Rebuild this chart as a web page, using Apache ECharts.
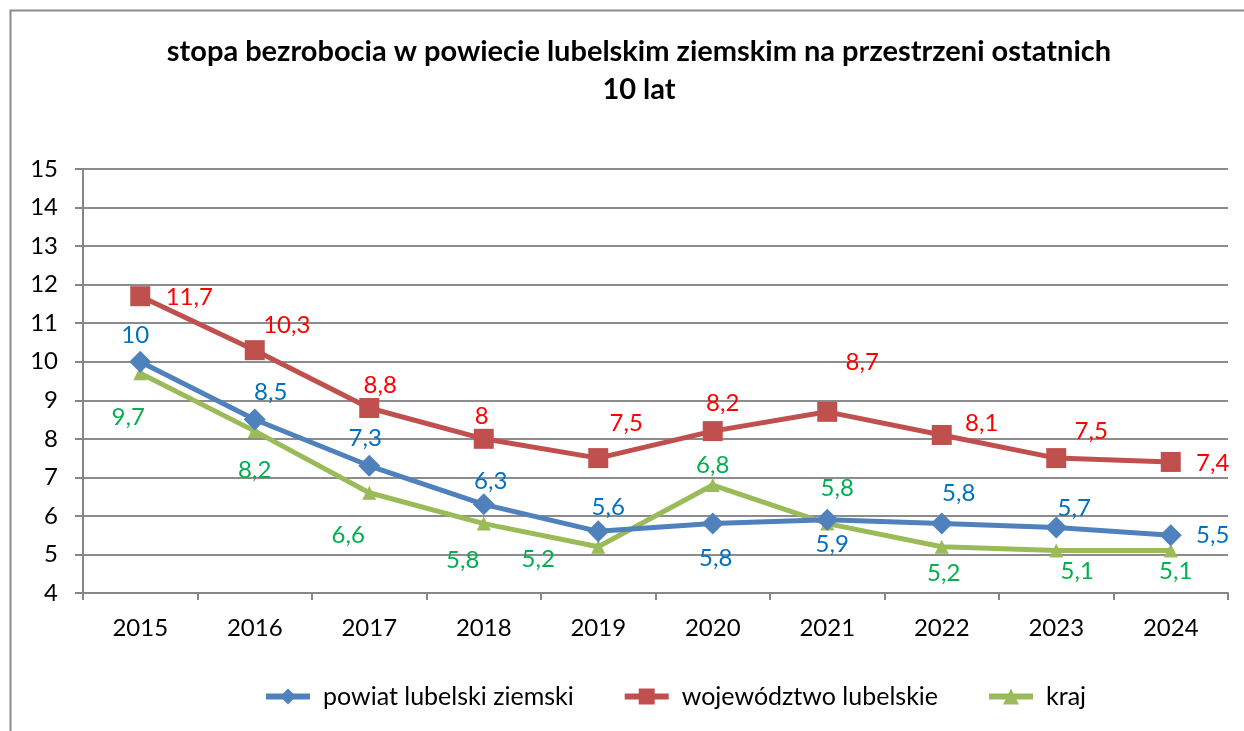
<!DOCTYPE html>
<html lang="pl">
<head>
    <meta charset="UTF-8">
    <title>stopa bezrobocia</title>
    <script src="https://cdn.jsdelivr.net/npm/echarts@6/dist/echarts.min.js"></script>
    <style>
        html, body { margin: 0; padding: 0; background: #fff; }
        #chart { width: 1244px; height: 731px; }
    </style>
</head>
<body>
<div id="chart"></div>

<script type="text/javascript">
    // dane
    var years = ['2015', '2016', '2017', '2018', '2019', '2020', '2021', '2022', '2023', '2024'];
    var powiat = [10, 8.5, 7.3, 6.3, 5.6, 5.8, 5.9, 5.8, 5.7, 5.5];
    var wojewodztwo = [11.7, 10.3, 8.8, 8, 7.5, 8.2, 8.7, 8.1, 7.5, 7.4];
    var kraj = [9.7, 8.2, 6.6, 5.8, 5.2, 6.8, 5.8, 5.2, 5.1, 5.1];
    var seriesNames = ['powiat lubelski ziemski', 'województwo lubelskie', 'kraj'];
    var yTicks = [4, 15, 1];

    // przesuniecia etykiet (jak w oryginale, recznie ustawione)
    var offPowiat = [[-5,-26],[16,-27],[-4,-28],[7,-23],[10,-24],[3,35],[5,25],[17,-30],[18,-19],[42,0]];
    var offWoj = [[49,1],[32,-25],[11,-23],[-2,-23],[28,-35],[10,-28],[35,-50],[40,-12],[35,-27],[42,1]];
    var offKraj = [[-12,44],[0,39],[-21,42],[-21,37],[-60,13],[0,-20],[10,-35],[2,27],[21,21],[5,21]];

    var font = 'Lato, "Open Sans", sans-serif';

    function fmt(v) {
        return String(v).replace('.', ',');
    }

    function buildData(values, offsets, color) {
        return values.map(function (v, i) {
            return {
                value: v,
                label: {
                    show: true,
                    position: 'inside',
                    offset: offsets[i],
                    color: color,
                    fontFamily: font,
                    fontSize: 24,
                    formatter: fmt(v)
                }
            };
        });
    }

    var myChart = echarts.init(document.getElementById('chart'), null, {renderer: 'canvas'});

    var option = {
        animation: false,
        backgroundColor: '#fff',
        graphic: [{
            type: 'rect',
            shape: {x: 10.5, y: 10.5, width: 1400, height: 900},
            style: {fill: 'none', stroke: '#8a8a8a', lineWidth: 2},
            silent: true,
            z: -1
        }],
        title: {
            text: 'stopa bezrobocia w powiecie lubelskim ziemskim na przestrzeni ostatnich\n10 lat',
            left: 634,
            textAlign: 'center',
            top: 28,
            textStyle: {
                fontFamily: font,
                fontWeight: 'bold',
                fontSize: 29,
                lineHeight: 38,
                color: '#000'
            }
        },
        legend: {
            data: seriesNames,
            bottom: 17,
            left: 258,
            itemWidth: 44,
            itemHeight: 20,
            itemGap: 48,
            lineStyle: {width: 6},
            textStyle: {
                fontFamily: font,
                fontSize: 25,
                color: '#000',
                padding: [0, 0, 0, 8]
            }
        },
        grid: {
            left: 83,
            right: 16,
            top: 169,
            bottom: 138,
            containLabel: false
        },
        xAxis: {
            type: 'category',
            data: years,
            boundaryGap: true,
            axisLine: {lineStyle: {color: '#868686', width: 2}},
            axisTick: {show: true, length: 7, lineStyle: {color: '#868686', width: 2}},
            axisLabel: {
                color: '#000',
                fontFamily: font,
                fontSize: 24,
                margin: 23
            }
        },
        yAxis: {
            type: 'value',
            min: yTicks[0],
            max: yTicks[1],
            interval: yTicks[2],
            axisLine: {show: true, lineStyle: {color: '#868686', width: 2}},
            axisTick: {show: true, length: 8, lineStyle: {color: '#868686', width: 2}},
            splitLine: {lineStyle: {color: '#8c8c8c', width: 2}},
            axisLabel: {
                color: '#000',
                fontFamily: font,
                fontSize: 24,
                margin: 25
            }
        },
        series: [
            {
                name: seriesNames[0],
                type: 'line',
                data: buildData(powiat, offPowiat, '#0070C0'),
                symbol: 'diamond',
                symbolSize: 22,
                lineStyle: {color: '#4F81BD', width: 5},
                itemStyle: {color: '#4F81BD'},
                z: 3
            },
            {
                name: seriesNames[1],
                type: 'line',
                data: buildData(wojewodztwo, offWoj, '#FF0000'),
                symbol: 'rect',
                symbolSize: 20,
                lineStyle: {color: '#C0504D', width: 5},
                itemStyle: {color: '#C0504D'},
                z: 2
            },
            {
                name: seriesNames[2],
                type: 'line',
                data: buildData(kraj, offKraj, '#00B050'),
                symbol: 'triangle',
                symbolSize: 14,
                lineStyle: {color: '#9BBB59', width: 5},
                itemStyle: {color: '#9BBB59'},
                z: 2
            }
        ]
    };

    myChart.setOption(option);
</script>

</body>
</html>
